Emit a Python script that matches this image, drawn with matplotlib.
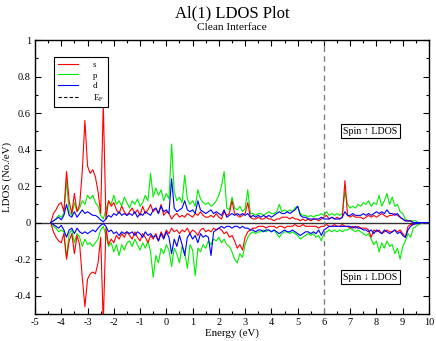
import numpy as np
import matplotlib
matplotlib.use("Agg")
import matplotlib.pyplot as plt
from matplotlib.ticker import MultipleLocator, FixedLocator, FixedFormatter
from matplotlib.lines import Line2D

plt.rcParams['font.family'] = ['Liberation Serif', 'DejaVu Serif']
plt.rcParams['mathtext.fontset'] = 'stix'
plt.rcParams['axes.unicode_minus'] = False

# Energy grid (eV)
energy = np.round(np.arange(-4.4, 10.05, 0.1), 1)

# Spin-up LDOS
s_up = [0.0, 0.05, 0.07, 0.10, 0.11, 0.06, 0.28, 0.12, 0.05, 0.16,
        0.06, 0.10, 0.28, 0.56, 0.31, 0.27, 0.29, 0.25, 0.17, 0.05,
        0.65, 0.02, 0.12, 0.09, 0.11, 0.07, 0.05, 0.09, 0.06, 0.04,
        0.06, 0.08, 0.05, 0.07, 0.04, 0.09, 0.05, 0.07, 0.10, 0.06,
        0.08, 0.05, 0.10, 0.04, 0.06, 0.05, 0.02, 0.04, 0.05, 0.03,
        0.04, 0.03, 0.05, 0.04, 0.03, 0.05, 0.04, 0.06, 0.04, 0.03,
        0.03, 0.04, 0.03, 0.05, 0.03, 0.02, 0.06, 0.04, 0.05, 0.12,
        0.05, 0.04, 0.03, 0.04, 0.05, 0.11, 0.03, 0.02, 0.02, 0.03,
        0.02, 0.02, 0.03, 0.02, 0.02, 0.01, 0.02, 0.02, 0.03, 0.03,
        0.03, 0.02, 0.03, 0.02, 0.02, 0.01, 0.02, 0.01, 0.02, 0.01,
        0.02, 0.02, 0.01, 0.02, 0.03, 0.04, 0.02, 0.03, 0.02, 0.03,
        0.02, 0.03, 0.23, 0.04, 0.03, 0.04, 0.03, 0.03, 0.03, 0.02,
        0.03, 0.04, 0.03, 0.04, 0.03, 0.04, 0.05, 0.04, 0.03, 0.04,
        0.04, 0.05, 0.04, 0.03, 0.02, 0.01, 0.01, 0.01, 0.0, 0.0,
        0.0, 0.0, 0.0, 0.0, 0.0]
p_up = [0.0, 0.01, 0.02, 0.04, 0.03, 0.05, 0.23, 0.06, 0.04, 0.11,
        0.06, 0.08, 0.12, 0.10, 0.15, 0.13, 0.15, 0.11, 0.09, 0.04,
        0.02, 0.07, 0.12, 0.10, 0.15, 0.10, 0.12, 0.09, 0.14, 0.11,
        0.08, 0.12, 0.10, 0.13, 0.09, 0.11, 0.15, 0.12, 0.27, 0.14,
        0.19, 0.15, 0.18, 0.12, 0.16, 0.13, 0.43, 0.17, 0.12, 0.14,
        0.11, 0.26, 0.13, 0.10, 0.12, 0.09, 0.18, 0.13, 0.11, 0.10,
        0.11, 0.09, 0.10, 0.12, 0.15, 0.20, 0.28, 0.08, 0.07, 0.14,
        0.08, 0.07, 0.09, 0.06, 0.08, 0.18, 0.05, 0.05, 0.04, 0.05,
        0.05, 0.04, 0.05, 0.06, 0.05, 0.05, 0.06, 0.10, 0.06, 0.07,
        0.06, 0.07, 0.06, 0.08, 0.09, 0.05, 0.04, 0.04, 0.03, 0.04,
        0.03, 0.04, 0.04, 0.05, 0.04, 0.06, 0.04, 0.05, 0.04, 0.05,
        0.04, 0.05, 0.17, 0.10, 0.08, 0.09, 0.08, 0.10, 0.09, 0.11,
        0.10, 0.12, 0.09, 0.11, 0.10, 0.15, 0.09, 0.12, 0.16, 0.10,
        0.14, 0.09, 0.10, 0.06, 0.05, 0.02, 0.01, 0.01, 0.01, 0.01,
        0.0, 0.0, 0.0, 0.0, 0.0]
d_up = [0.0, 0.01, 0.02, 0.03, 0.015, 0.04, 0.10, 0.04, 0.03, 0.06,
        0.03, 0.05, 0.07, 0.05, 0.06, 0.05, 0.04, 0.04, 0.03, 0.015,
        0.005, 0.02, 0.04, 0.03, 0.05, 0.04, 0.06, 0.04, 0.05, 0.04,
        0.05, 0.04, 0.06, 0.03, 0.05, 0.04, 0.06, 0.05, 0.04, 0.07,
        0.08, 0.05, 0.09, 0.06, 0.07, 0.05, 0.24, 0.08, 0.06, 0.07,
        0.08, 0.12, 0.07, 0.06, 0.07, 0.05, 0.12, 0.07, 0.06, 0.05,
        0.06, 0.07, 0.05, 0.06, 0.05, 0.04, 0.07, 0.03, 0.04, 0.05,
        0.04, 0.05, 0.04, 0.05, 0.04, 0.05, 0.03, 0.04, 0.03, 0.04,
        0.03, 0.04, 0.03, 0.04, 0.03, 0.04, 0.05, 0.06, 0.05, 0.05,
        0.06, 0.05, 0.06, 0.07, 0.09, 0.04, 0.03, 0.03, 0.02, 0.02,
        0.02, 0.02, 0.02, 0.03, 0.02, 0.02, 0.02, 0.03, 0.02, 0.02,
        0.02, 0.03, 0.06, 0.04, 0.04, 0.05, 0.04, 0.04, 0.04, 0.05,
        0.04, 0.05, 0.04, 0.05, 0.06, 0.05, 0.06, 0.05, 0.07, 0.05,
        0.05, 0.04, 0.05, 0.03, 0.02, 0.01, 0.01, 0.01, 0.0, 0.0,
        0.0, 0.0, 0.0, 0.0, 0.0]

# Spin-down LDOS
s_dn = [0.0, -0.05, -0.08, -0.10, -0.11, -0.06, -0.20, -0.10, -0.06, -0.17,
        -0.07, -0.12, -0.30, -0.46, -0.31, -0.28, -0.27, -0.28, -0.22, -0.08,
        -0.55, -0.03, -0.12, -0.09, -0.11, -0.07, -0.09, -0.06, -0.08, -0.05,
        -0.07, -0.09, -0.05, -0.08, -0.10, -0.06, -0.08, -0.11, -0.07, -0.09,
        -0.06, -0.10, -0.05, -0.08, -0.04, -0.06, -0.03, -0.05, -0.04, -0.06,
        -0.04, -0.05, -0.03, -0.06, -0.04, -0.05, -0.07, -0.04, -0.03, -0.05,
        -0.04, -0.05, -0.03, -0.04, -0.03, -0.04, -0.06, -0.05, -0.08, -0.07,
        -0.10, -0.14, -0.12, -0.15, -0.08, -0.05, -0.04, -0.03, -0.03, -0.02,
        -0.02, -0.02, -0.03, -0.02, -0.02, -0.02, -0.03, -0.02, -0.02, -0.03,
        -0.02, -0.02, -0.02, -0.01, -0.02, -0.02, -0.01, -0.02, -0.02, -0.02,
        -0.02, -0.02, -0.03, -0.02, -0.02, -0.01, -0.02, -0.02, -0.01, -0.02,
        -0.02, -0.01, -0.02, -0.02, -0.03, -0.02, -0.03, -0.02, -0.03, -0.03,
        -0.03, -0.04, -0.08, -0.04, -0.05, -0.04, -0.06, -0.05, -0.04, -0.05,
        -0.05, -0.04, -0.05, -0.04, -0.06, -0.08, -0.02, -0.01, -0.01, -0.005,
        -0.005, 0.0, 0.0, 0.0, 0.0]
p_dn = [0.0, -0.02, -0.03, -0.05, -0.04, -0.05, -0.19, -0.06, -0.04, -0.11,
        -0.06, -0.08, -0.13, -0.09, -0.12, -0.11, -0.13, -0.11, -0.09, -0.04,
        -0.02, -0.07, -0.13, -0.11, -0.16, -0.12, -0.18, -0.12, -0.15, -0.11,
        -0.10, -0.13, -0.09, -0.12, -0.15, -0.11, -0.14, -0.10, -0.16, -0.30,
        -0.18, -0.22, -0.14, -0.17, -0.12, -0.15, -0.24, -0.14, -0.17, -0.22,
        -0.13, -0.16, -0.25, -0.12, -0.15, -0.29, -0.14, -0.16, -0.12, -0.14,
        -0.10, -0.12, -0.09, -0.10, -0.08, -0.11, -0.09, -0.12, -0.13, -0.16,
        -0.20, -0.22, -0.17, -0.19, -0.12, -0.08, -0.06, -0.05, -0.06, -0.05,
        -0.05, -0.04, -0.05, -0.04, -0.05, -0.04, -0.06, -0.08, -0.06, -0.05,
        -0.05, -0.06, -0.05, -0.06, -0.07, -0.09, -0.08, -0.07, -0.06, -0.07,
        -0.06, -0.08, -0.07, -0.10, -0.06, -0.05, -0.04, -0.05, -0.04, -0.05,
        -0.04, -0.05, -0.04, -0.04, -0.03, -0.04, -0.05, -0.04, -0.05, -0.06,
        -0.07, -0.06, -0.09, -0.12, -0.10, -0.16, -0.11, -0.14, -0.10, -0.13,
        -0.12, -0.17, -0.14, -0.20, -0.13, -0.10, -0.06, -0.08, -0.03, -0.02,
        -0.01, -0.005, 0.0, 0.0, 0.0]
d_dn = [0.0, -0.01, -0.02, -0.03, -0.015, -0.04, -0.08, -0.04, -0.03, -0.06,
        -0.03, -0.05, -0.06, -0.05, -0.06, -0.05, -0.04, -0.05, -0.03, -0.015,
        -0.005, -0.02, -0.05, -0.04, -0.06, -0.05, -0.07, -0.05, -0.06, -0.05,
        -0.06, -0.05, -0.07, -0.05, -0.06, -0.08, -0.05, -0.07, -0.06, -0.08,
        -0.07, -0.10, -0.06, -0.09, -0.05, -0.08, -0.17, -0.09, -0.13, -0.07,
        -0.12, -0.18, -0.08, -0.06, -0.09, -0.07, -0.11, -0.06, -0.08, -0.07,
        -0.08, -0.18, -0.05, -0.04, -0.03, -0.02, -0.03, -0.02, -0.02, -0.03,
        -0.02, -0.02, -0.03, -0.02, -0.03, -0.03, -0.04, -0.04, -0.05, -0.04,
        -0.04, -0.05, -0.04, -0.04, -0.05, -0.04, -0.05, -0.06, -0.05, -0.04,
        -0.05, -0.05, -0.04, -0.05, -0.06, -0.07, -0.06, -0.05, -0.05, -0.06,
        -0.05, -0.06, -0.04, -0.07, -0.04, -0.03, -0.02, -0.02, -0.02, -0.02,
        -0.02, -0.02, -0.02, -0.02, -0.02, -0.03, -0.02, -0.03, -0.03, -0.04,
        -0.04, -0.05, -0.04, -0.06, -0.04, -0.05, -0.06, -0.04, -0.05, -0.06,
        -0.05, -0.04, -0.06, -0.05, -0.07, -0.08, -0.04, -0.02, -0.01, -0.005,
        -0.005, 0.0, 0.0, 0.0, 0.0]

fermi_energy = 6.0
xticks = [-5, -4, -3, -2, -1, 0, 1, 2, 3, 4, 5, 6, 7, 8, 9, 10]
yticks = [-0.4, -0.2, 0, 0.2, 0.4, 0.6, 0.8, 1]
ytick_labels = ["-0.4", "-0.2", "0", "0.2", "0.4", "0.6", "0.8", "1"]

fig = plt.figure(figsize=(4.36, 3.41), dpi=100)
ax = fig.add_axes([35/436, 1-314/341, 394/436, 274/341])

red, green, blue = '#ff0000', '#00ee00', '#0000ff'
lw = 0.8
ax.plot(energy, p_up, color=green, lw=lw)
ax.plot(energy, p_dn, color=green, lw=lw)
ax.plot(energy, s_up, color=red, lw=lw)
ax.plot(energy, s_dn, color=red, lw=lw)
ax.plot(energy, d_up, color=blue, lw=lw)
ax.plot(energy, d_dn, color=blue, lw=lw)
ax.axhline(0, color='#333333', lw=1.0, zorder=1)
ax.axvline(fermi_energy, color='#808080', lw=1.0, ls=(0, (4, 3)))

ax.set_xlim(-5, 10)
ax.set_ylim(-0.5, 1.0)
ax.xaxis.set_major_locator(FixedLocator(xticks))
ax.xaxis.set_minor_locator(MultipleLocator(0.5))
ax.yaxis.set_major_locator(FixedLocator(yticks))
ax.yaxis.set_major_formatter(FixedFormatter(ytick_labels))
ax.yaxis.set_minor_locator(MultipleLocator(0.1))
ax.tick_params(which='both', direction='in', top=True, right=True, labelsize=7.5, pad=3)
ax.tick_params(which='major', length=4.5, width=0.8)
ax.tick_params(which='minor', length=2.5, width=0.8)
for sp in ax.spines.values():
    sp.set_linewidth(1.0)

ax.set_xlabel('Energy (eV)', fontsize=7.8, labelpad=1)
ax.set_ylabel('LDOS (No./eV)', fontsize=7.8, labelpad=2)

fig.text(232/436, 1-13/341, 'Al(1) LDOS Plot', ha='center', va='center', fontsize=12)
fig.text(232/436, 1-28/341, 'Clean Interface', ha='center', va='center', fontsize=8.2)

handles = [Line2D([], [], color=red, lw=lw), Line2D([], [], color=green, lw=lw),
           Line2D([], [], color=blue, lw=lw), Line2D([], [], color='black', lw=lw, ls=(0, (3, 2)))]
leg = ax.legend(handles, ['s', 'p', 'd', r'E$_{\rm F}$'], loc='upper left',
                bbox_to_anchor=((54-35)/394, 1-(57-40)/274), fontsize=6.5,
                frameon=True, fancybox=False, edgecolor='black', framealpha=1,
                handlelength=2.3, handletextpad=1.6, labelspacing=0.25,
                borderpad=0.4, borderaxespad=0)
leg.get_frame().set_linewidth(0.8)

box = dict(boxstyle='square,pad=0.25', fc='white', ec='black', lw=0.8)
ax.text(7.77, 0.5, 'Spin \u2191 LDOS', ha='center', va='center', fontsize=7.2,
        bbox=box, family=['Liberation Serif', 'DejaVu Sans'])
ax.text(7.77, -0.3, 'Spin \u2193 LDOS', ha='center', va='center', fontsize=7.2,
        bbox=box, family=['Liberation Serif', 'DejaVu Sans'])

fig.savefig('out.png', dpi=100)
